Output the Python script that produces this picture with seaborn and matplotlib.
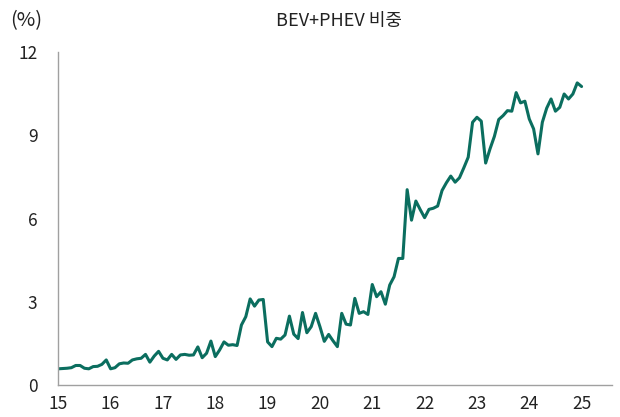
import matplotlib
matplotlib.use("Agg")
import matplotlib.pyplot as plt
import numpy as np
import pandas as pd
import seaborn as sns

# monthly BEV+PHEV share (%), Jan 2015 .. Jan 2025
y2015 = [0.58, 0.59, 0.60, 0.62, 0.70, 0.70, 0.60, 0.58, 0.66, 0.67, 0.74, 0.90]
y2016 = [0.58, 0.62, 0.76, 0.79, 0.78, 0.90, 0.94, 0.96, 1.10, 0.82, 1.04, 1.21]
y2017 = [0.96, 0.90, 1.10, 0.92, 1.08, 1.10, 1.07, 1.08, 1.37, 0.98, 1.14, 1.58]
y2018 = [1.02, 1.26, 1.55, 1.43, 1.45, 1.42, 2.16, 2.46, 3.10, 2.84, 3.06, 3.08]
y2019 = [1.55, 1.38, 1.68, 1.65, 1.80, 2.48, 1.83, 1.67, 2.61, 1.88, 2.10, 2.58]
y2020 = [2.10, 1.57, 1.82, 1.59, 1.38, 2.58, 2.19, 2.16, 3.12, 2.58, 2.64, 2.54]
y2021 = [3.62, 3.18, 3.36, 2.91, 3.60, 3.90, 4.56, 4.56, 7.04, 5.94, 6.63, 6.32]
y2022 = [6.03, 6.33, 6.37, 6.45, 7.01, 7.29, 7.53, 7.31, 7.47, 7.83, 8.21, 9.47]
y2023 = [9.65, 9.51, 8.00, 8.51, 8.96, 9.57, 9.71, 9.89, 9.87, 10.54, 10.17, 10.23]
y2024 = [9.59, 9.23, 8.33, 9.47, 9.98, 10.31, 9.87, 10.01, 10.49, 10.31, 10.49, 10.89]
y2025 = [10.76]

share = y2015 + y2016 + y2017 + y2018 + y2019 + y2020 + y2021 + y2022 + y2023 + y2024 + y2025
xticks = list(range(15, 26))
yticks = [0, 3, 6, 9, 12]

df = pd.DataFrame({"t": 15 + np.arange(len(share)) / 12, "share": share})

sns.set_style("white")
plt.rcParams['font.family'] = ['Noto Sans CJK KR', 'DejaVu Sans']

fig = plt.figure(figsize=(6.2, 4.17), dpi=100)
ax = fig.add_axes([0.094, 0.077, 0.893, 0.798])

sns.lineplot(data=df, x="t", y="share", color="#0b6e5f", linewidth=2.2, ax=ax)

ax.set_xlim(15, 25.58)
ax.set_ylim(0, 12)
ax.set_xticks(xticks)
ax.set_yticks(yticks)
ax.set_xlabel("")
ax.set_ylabel("")
for s in ["top", "right"]:
    ax.spines[s].set_visible(False)
for s in ["left", "bottom"]:
    ax.spines[s].set_color("#a0a0a0")
    ax.spines[s].set_linewidth(1.0)
ax.tick_params(axis="both", direction="out", length=4, width=1, color="#a0a0a0",
               labelsize=12.5, labelcolor="#222222")
ax.tick_params(axis="y", pad=11)
ax.tick_params(axis="x", pad=3)

fig.text(0.547, 0.950, "BEV+PHEV 비중", ha="center", va="center", fontsize=13, color="#222222")
fig.text(0.016, 0.950, "(%)", ha="left", va="center", fontsize=14.5, color="#222222")

plt.savefig("out.png", dpi=100)
